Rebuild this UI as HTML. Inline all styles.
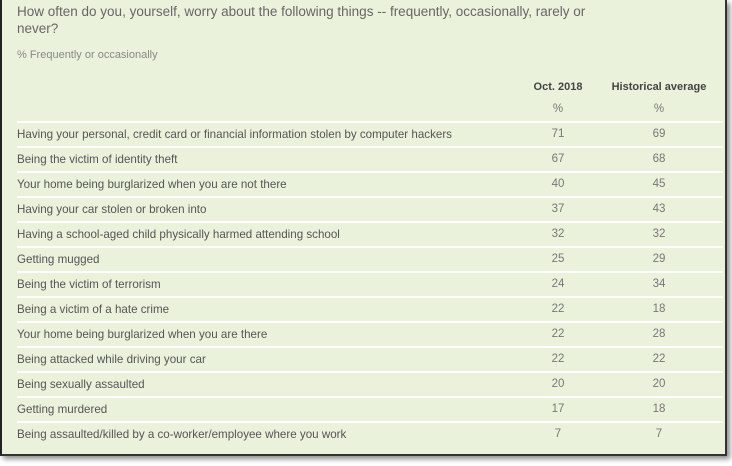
<!DOCTYPE html>
<html><head><style>
body{margin:0;width:732px;height:466px;background:#fff;overflow:hidden;font-family:"Liberation Sans",Arial,sans-serif;}
#p{position:absolute;left:0;top:0;width:723px;height:454px;background:#eaf2dc;border-left:2px solid #222;border-right:2px solid #333;border-bottom:2px solid #333;box-shadow:3px 3px 5px rgba(0,0,0,.45);}
.t{position:absolute;left:15px;font-size:13.5px;color:#666;line-height:17px;}
.s{position:absolute;left:15px;top:49px;font-size:11px;color:#888;}
.h{position:absolute;font-size:11px;font-weight:bold;color:#444;transform:translateX(-50%);white-space:nowrap}
.c{position:absolute;font-size:11.5px;color:#777;transform:translateX(-50%)}
.r{position:absolute;left:15px;right:2px;height:25px;border-top:2px solid #fff;box-sizing:border-box}
.l{position:absolute;left:15px;font-size:11.6px;color:#555;white-space:nowrap}
</style></head><body><div id="p">
<div class="t" style="top:3px">How often do you, yourself, worry about the following things -- frequently, occasionally, rarely or<br>never?</div>
<div class="s">% Frequently or occasionally</div>
<div class="h" style="left:556px;top:81px">Oct. 2018</div>
<div class="h" style="left:657px;top:81px">Historical average</div>
<div class="c" style="left:556px;top:103px">%</div>
<div class="c" style="left:657px;top:103px">%</div>
<div id="rows"></div>
</div>
<script>
var d=[["Having your personal, credit card or financial information stolen by computer hackers",71,69],["Being the victim of identity theft",67,68],["Your home being burglarized when you are not there",40,45],["Having your car stolen or broken into",37,43],["Having a school-aged child physically harmed attending school",32,32],["Getting mugged",25,29],["Being the victim of terrorism",24,34],["Being a victim of a hate crime",22,18],["Your home being burglarized when you are there",22,28],["Being attacked while driving your car",22,22],["Being sexually assaulted",20,20],["Getting murdered",17,18],["Being assaulted/killed by a co-worker/employee where you work",7,7]];
var h="";d.forEach(function(r,i){var y=121+25*i;h+='<div class="r" style="top:'+y+'px"></div><div class="l" style="top:'+(y+7)+'px">'+r[0]+'</div><div class="c" style="left:556px;top:'+(y+7)+'px">'+r[1]+'</div><div class="c" style="left:657px;top:'+(y+7)+'px">'+r[2]+'</div>';});
document.getElementById("rows").outerHTML=h;
</script>
</body></html>
